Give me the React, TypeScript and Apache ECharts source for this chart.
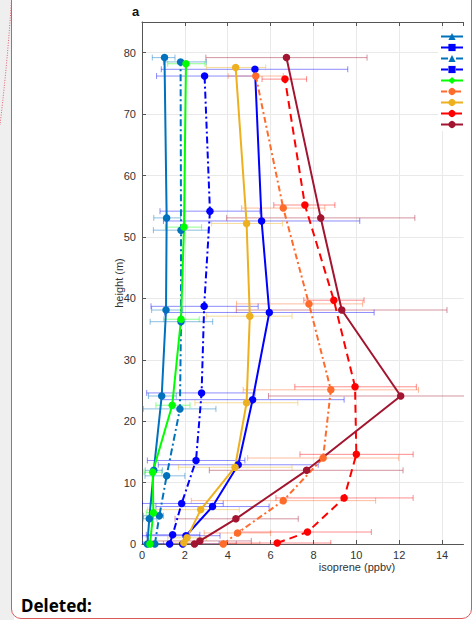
import React, { useEffect, useRef } from "react";
import * as echarts from "echarts";

// ---- data (height in m, isoprene in ppbv, error-bar bounds in ppbv) ----
const hA = [0, 4.1, 12.0, 24.1, 38.1, 53.1, 79.2];
const xA = [0.25, 0.34, 0.55, 0.92, 1.12, 1.15, 1.05];
const loA = [0.05, 0.05, 0.15, 0.3, 0.45, 0.55, 0.48];
const hiA = [0.5, 0.7, 0.95, 1.6, 1.9, 1.8, 1.54];

const hB = [0, 1.35, 6.1, 12.9, 23.5, 37.7, 52.6, 77.3];
const xB = [1.9, 2.05, 3.29, 4.49, 5.16, 5.94, 5.58, 5.27];
const loB = [0.2, 0.0, 0.65, 0.76, 0.9, 1.05, 1.0, 0.9];
const hiB = [3.6, 3.64, 5.93, 8.22, 9.43, 10.83, 10.16, 9.6];

const hC = [0, 4.6, 11.1, 22.0, 36.2, 51.1, 78.5];
const xC = [0.6, 0.81, 1.15, 1.77, 1.82, 1.82, 1.8];
const loC = [0.2, 0.06, 0.14, 0.06, 0.38, 0.53, 1.0];
const hiC = [1.0, 1.0, 2.0, 3.45, 3.3, 3.09, 3.0];

const hD = [0, 1.5, 6.6, 13.6, 24.6, 38.7, 54.2, 76.2];
const xD = [1.29, 1.43, 1.85, 2.52, 2.78, 2.9, 3.17, 2.92];
const loD = [0.0, 0.2, 0.0, 0.25, 0.22, 0.42, 0.84, 0.68];
const hiD = [2.6, 2.7, 3.79, 4.8, 5.27, 5.42, 5.5, 5.2];

const hE = [0, 5.1, 11.7, 22.6, 36.6, 51.6, 78.2];
const xE = [0.37, 0.53, 0.5, 1.41, 1.82, 1.96, 2.05];
const loE = [0.2, 0.2, 0.09, 0.65, 1.0, 1.09, 1.2];
const hiE = [0.6, 0.85, 0.92, 2.24, 2.67, 2.78, 2.94];

const hF = [0, 1.8, 7.06, 14.0, 25.1, 39.1, 54.7, 76.2];
const xF = [3.79, 4.46, 6.59, 8.45, 8.81, 7.79, 6.59, 5.31];
const loF = [2.0, 2.9, 2.3, 4.93, 4.72, 4.41, 4.65, 4.02];
const hiF = [5.5, 6.0, 10.9, 11.98, 12.9, 10.29, 8.53, 6.59];

const hG = [0.2, 1.0, 5.6, 12.5, 23.0, 37.1, 52.2, 77.6];
const xG = [1.95, 2.1, 2.74, 4.34, 4.88, 5.03, 4.88, 4.37];
const loG = [1.3, 1.2, 0.26, 1.7, 2.47, 3.0, 3.25, 3.0];
const hiG = [2.6, 3.0, 4.54, 7.0, 7.27, 7.0, 6.56, 5.77];

const hH = [0.16, 1.95, 7.5, 14.6, 25.6, 39.7, 55.2, 75.7];
const xH = [6.31, 7.72, 9.43, 10.0, 9.94, 8.95, 7.6, 6.67];
const loH = [3.8, 4.6, 6.25, 7.37, 7.13, 7.55, 6.15, 5.6];
const hiH = [8.81, 10.7, 12.65, 12.65, 12.8, 10.36, 9.0, 7.68];

const hI = [0, 0.5, 4.1, 12.0, 24.1, 38.1, 53.1, 79.2];
const xI = [2.45, 2.7, 4.38, 7.68, 12.07, 9.32, 8.34, 6.74];
const loI = [0.5, 0.3, 1.54, 3.14, 5.9, 4.4, 3.95, 2.98];
const hiI = [4.4, 5.1, 7.29, 12.18, 18.2, 14.23, 12.73, 10.5];

const xTicksMax = 15;
const yTicksMax = 85;

const FONT = "Liberation Sans, Arial, sans-serif";

type Def = {
  key: string; h: number[]; x: number[]; lo: number[]; hi: number[];
  color: string; dash: any; legendSymbol: string;
};

const defs: Def[] = [
  { key: "A", h: hA, x: xA, lo: loA, hi: hiA, color: "#0072BD", dash: "solid", legendSymbol: "triangle" },
  { key: "B", h: hB, x: xB, lo: loB, hi: hiB, color: "#0000FF", dash: "solid", legendSymbol: "rect" },
  { key: "C", h: hC, x: xC, lo: loC, hi: hiC, color: "#0072BD", dash: [7, 3, 2, 3], legendSymbol: "triangle" },
  { key: "D", h: hD, x: xD, lo: loD, hi: hiD, color: "#0000FF", dash: [7, 3, 2, 3], legendSymbol: "rect" },
  { key: "E", h: hE, x: xE, lo: loE, hi: hiE, color: "#00FF00", dash: "solid", legendSymbol: "diamond" },
  { key: "F", h: hF, x: xF, lo: loF, hi: hiF, color: "#FF6B2B", dash: [6, 3, 2, 3], legendSymbol: "circle" },
  { key: "G", h: hG, x: xG, lo: loG, hi: hiG, color: "#EDB120", dash: "solid", legendSymbol: "circle" },
  { key: "H", h: hH, x: xH, lo: loH, hi: hiH, color: "#FF0000", dash: [8, 5], legendSymbol: "circle" },
  { key: "I", h: hI, x: xI, lo: loI, hi: hiI, color: "#A2142F", dash: "solid", legendSymbol: "circle" },
];

export default function App() {
  const ref = useRef<HTMLDivElement>(null);

  useEffect(() => {
    if (!ref.current) return;
    const chart = echarts.init(ref.current, undefined, { renderer: "svg" });

    const series: any[] = [];
    defs.forEach((d) => {
      // error bars
      series.push({
        type: "custom",
        name: d.key + "-err",
        xAxisIndex: 0,
        yAxisIndex: 0,
        z: 1,
        clip: true,
        silent: true,
        data: d.h.map((h, i) => [d.lo[i], d.hi[i], h]),
        encode: { x: [0, 1], y: 2 },
        renderItem: (params: any, api: any) => {
          const lo = api.value(0);
          const hi = api.value(1);
          const h = api.value(2);
          const p1 = api.coord([lo, h]);
          const p2 = api.coord([hi, h]);
          const style = { stroke: d.color, lineWidth: 1, opacity: 0.45 };
          const children: any[] = [
            { type: "line", shape: { x1: p1[0], y1: p1[1], x2: p2[0], y2: p2[1] }, style },
          ];
          if (lo >= 0) children.push({ type: "line", shape: { x1: p1[0], y1: p1[1] - 3, x2: p1[0], y2: p1[1] + 3 }, style });
          if (hi <= xTicksMax) children.push({ type: "line", shape: { x1: p2[0], y1: p2[1] - 3, x2: p2[0], y2: p2[1] + 3 }, style });
          return { type: "group", children };
        },
      });
      // profile line
      series.push({
        type: "line",
        name: d.key + "-data",
        xAxisIndex: 0,
        yAxisIndex: 0,
        z: 3,
        data: d.h.map((h, i) => [d.x[i], h]),
        symbol: "circle",
        symbolSize: 7.5,
        showSymbol: true,
        silent: true,
        itemStyle: { color: d.color },
        lineStyle: { color: d.color, width: 2, type: d.dash },
      });
      // legend proxy
      series.push({
        type: "line",
        name: d.key,
        xAxisIndex: 0,
        yAxisIndex: 0,
        data: [],
        symbol: d.legendSymbol,
        symbolSize: 7,
        itemStyle: { color: d.color },
        lineStyle: { color: d.color, width: 2, type: d.dash },
      });
    });

    const axisLineStyle = { color: "#555", width: 1 };
    const labelStyle = { color: "#333", fontSize: 11, fontFamily: FONT };

    chart.setOption({
      animation: false,
      grid: { left: 142, top: 22, right: 12.5, bottom: 76, containLabel: false },
      legend: {
        data: defs.map((d) => d.key),
        orient: "vertical",
        left: 438,
        top: 29,
        itemWidth: 22,
        itemHeight: 9,
        itemGap: 2.9,
        padding: [3, 2, 3, 2],
        backgroundColor: "#ffffff",
        formatter: () => "",
        selectedMode: false,
        textStyle: { fontSize: 1 },
      },
      xAxis: [
        {
          type: "value",
          min: 0,
          max: xTicksMax,
          interval: 2,
          position: "bottom",
          axisLine: { show: true, lineStyle: axisLineStyle },
          axisTick: { show: true, inside: true, length: 4, lineStyle: axisLineStyle },
          axisLabel: { ...labelStyle, margin: 5, showMaxLabel: false },
          splitLine: { show: true, showMaxLine: false, lineStyle: { color: "#e9e9e9", width: 1 } },
        },
        {
          type: "value",
          min: 0,
          max: xTicksMax,
          interval: 2,
          position: "top",
          axisLine: { show: true, onZero: false, lineStyle: axisLineStyle },
          axisTick: { show: true, inside: true, length: 4, lineStyle: axisLineStyle },
          axisLabel: { show: false },
          splitLine: { show: false },
        },
      ],
      yAxis: [
        {
          type: "value",
          min: 0,
          max: yTicksMax,
          interval: 10,
          name: "height (m)",
          nameLocation: "middle",
          nameGap: 18,
          nameMoveOverlap: false,
          nameTextStyle: { ...labelStyle },
          axisLine: { show: true, lineStyle: axisLineStyle },
          axisTick: { show: true, inside: true, length: 4, lineStyle: axisLineStyle },
          axisLabel: { ...labelStyle, margin: 6, showMaxLabel: false },
          splitLine: { show: true, showMaxLine: false, lineStyle: { color: "#e9e9e9", width: 1 } },
        },
      ],
      graphic: [
        {
          type: "text",
          left: 132,
          top: 5,
          style: { text: "a", font: "bold 13px " + FONT, fill: "#111" },
        },
        {
          type: "text",
          x: 357,
          y: 567,
          style: {
            text: "isoprene (ppbv)",
            font: "11px " + FONT,
            fill: "#333",
            textAlign: "center",
            textVerticalAlign: "middle",
          },
        },
        {
          type: "text",
          x: 21,
          y: 605,
          style: {
            text: "Deleted:",
            font: "bold 17px 'Noto Sans', 'Open Sans', sans-serif",
            fill: "#000",
            textAlign: "left",
            textVerticalAlign: "middle",
          },
        },
        {
          type: "bezierCurve",
          shape: { x1: 11.5, y1: 0, cpx1: 8, cpy1: 55, cpx2: 3, cpy2: 100, x2: 0, y2: 125 },
          style: { stroke: "#e06070", lineWidth: 1, lineDash: [1, 1.5], fill: "none" },
        },
      ],
      series,
    });

    return () => chart.dispose();
  }, []);

  return (
    <div style={{ position: "fixed", left: 0, top: 0, width: 476, height: 620, background: "#ffffff", overflow: "hidden" }}>
      <div style={{ position: "absolute", left: 0, top: 0, width: 14, height: 620, background: "#efefef" }} />
      <div
        style={{
          position: "absolute",
          left: 11,
          top: -20,
          width: 461,
          height: 639,
          border: "1px solid #d95a5a",
          borderRadius: 10,
          boxSizing: "border-box",
          background: "#ffffff",
        }}
      />
      <div ref={ref} style={{ position: "absolute", left: 0, top: 0, width: 476, height: 620 }} />
    </div>
  );
}
